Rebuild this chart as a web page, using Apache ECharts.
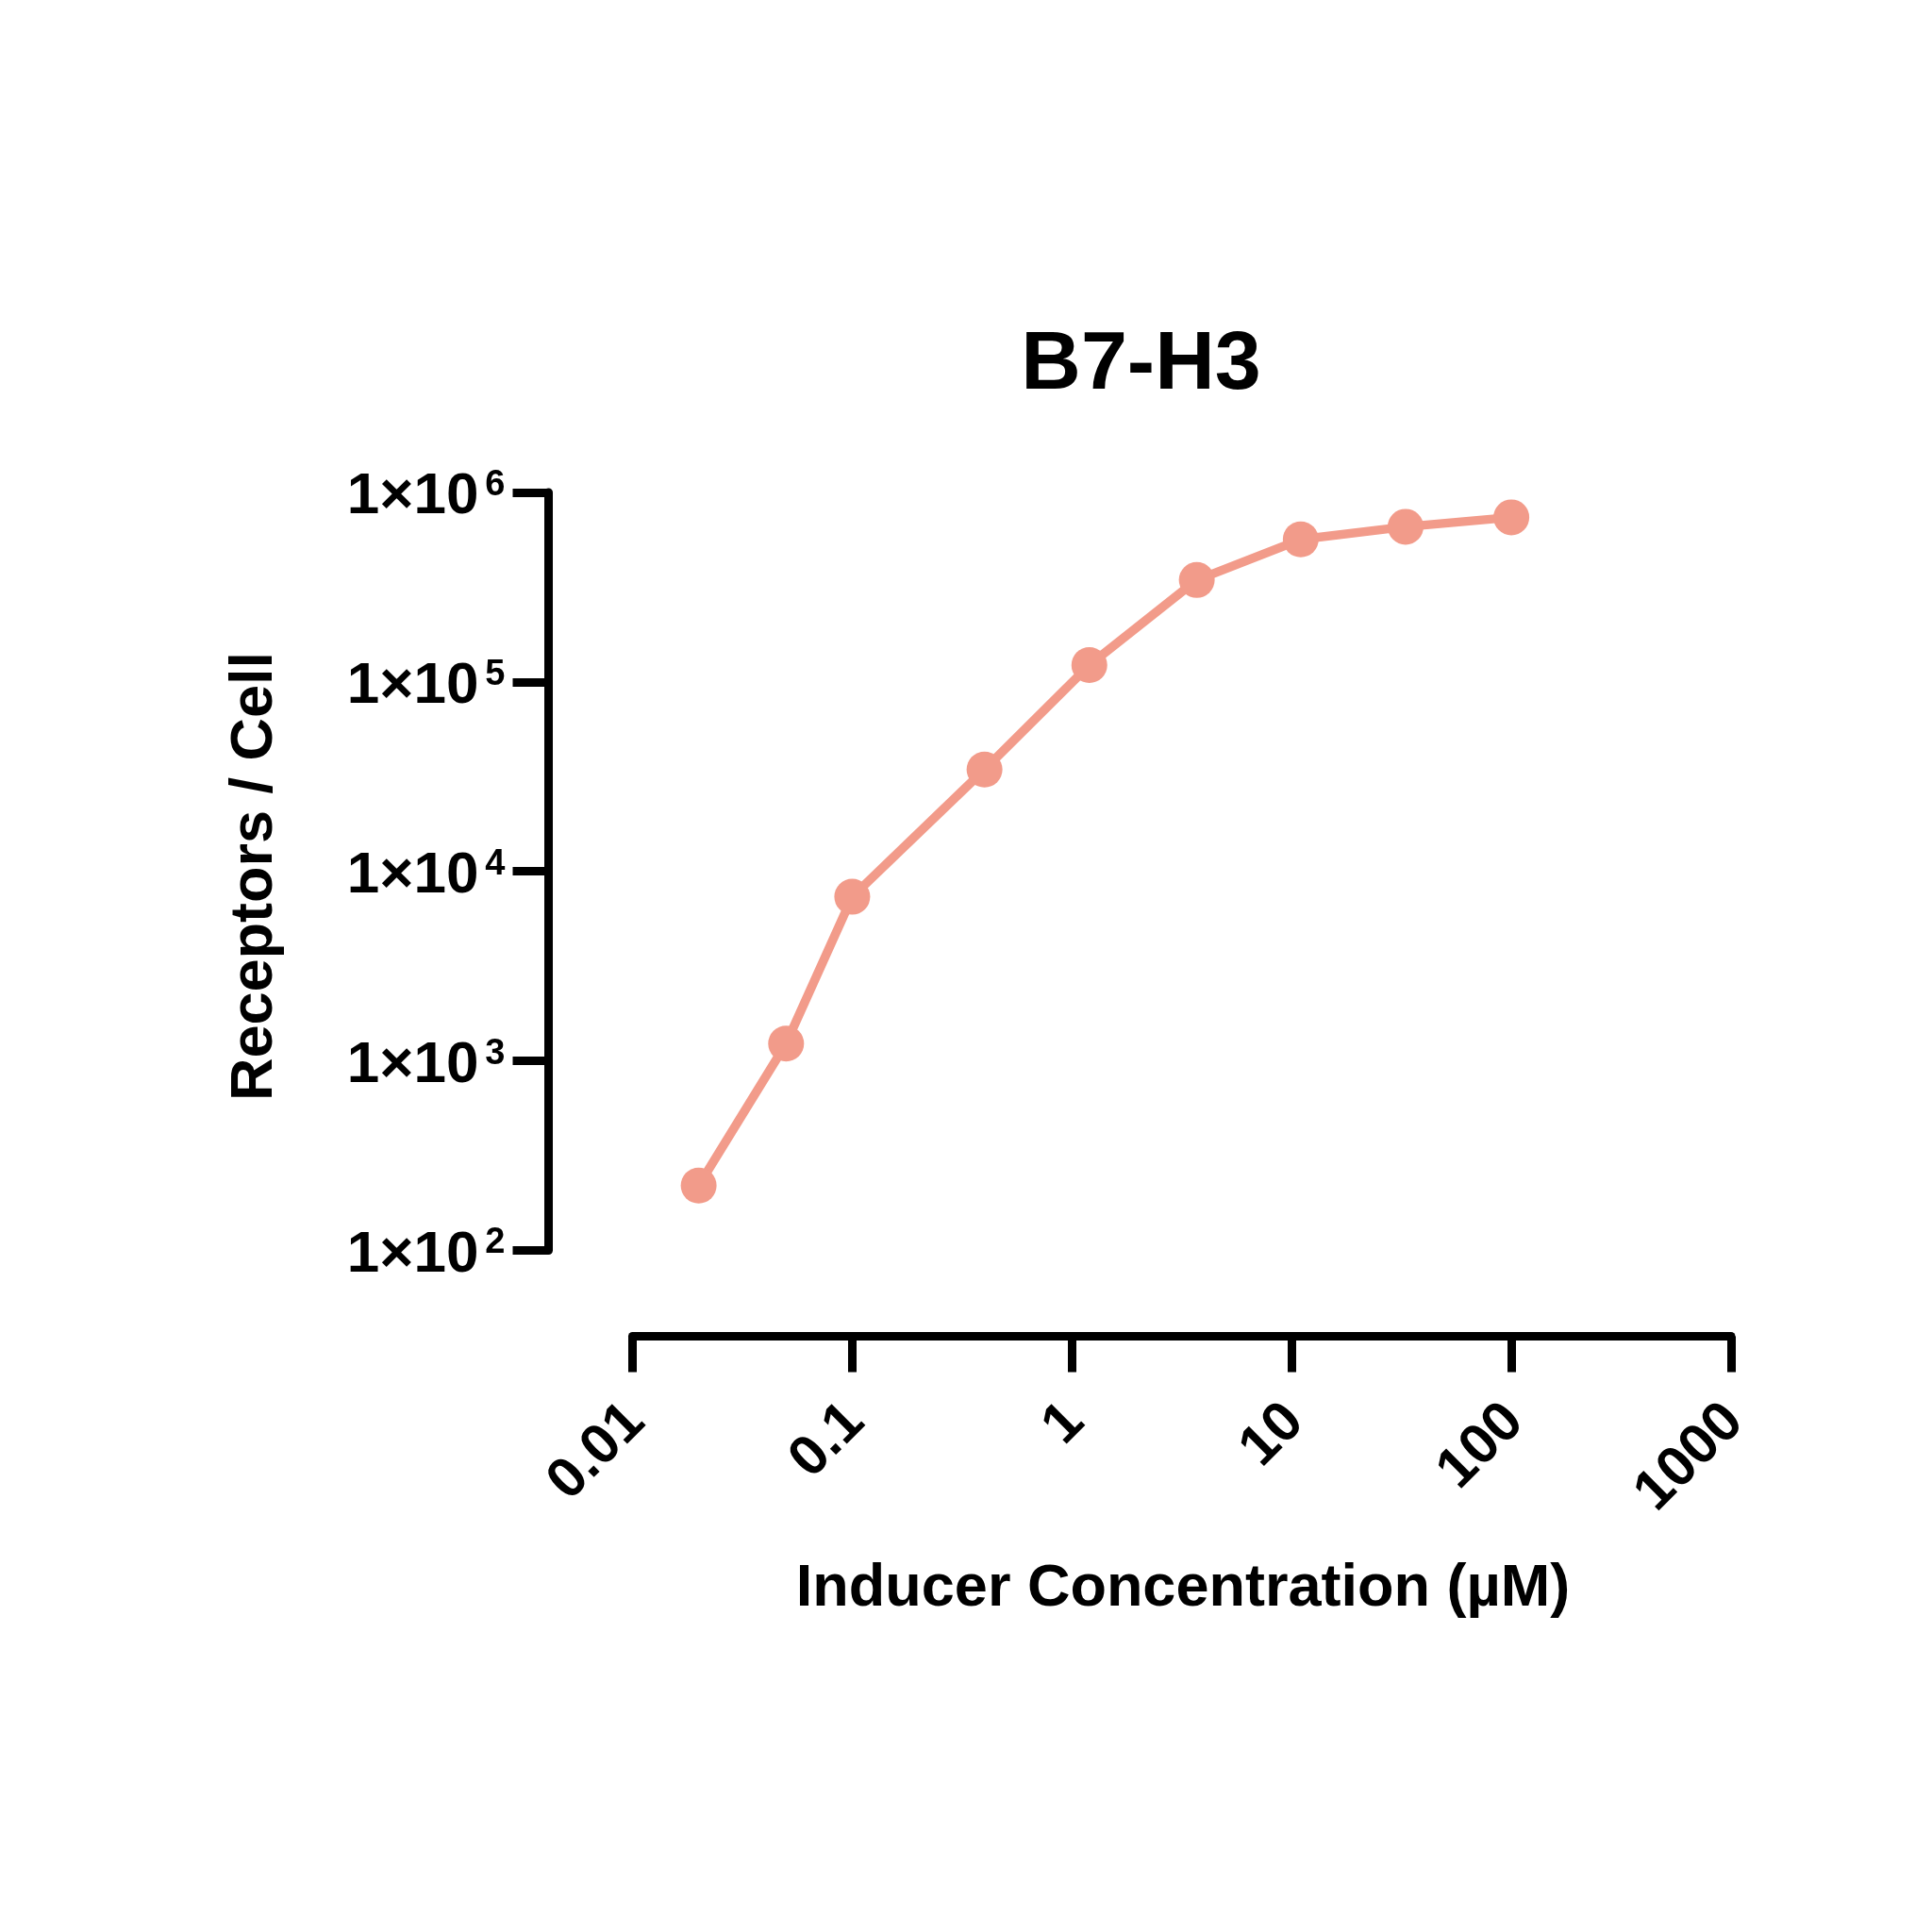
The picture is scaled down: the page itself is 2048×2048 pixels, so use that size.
<!DOCTYPE html>
<html>
<head>
<meta charset="utf-8">
<script src="https://cdn.jsdelivr.net/npm/echarts@6/dist/echarts.min.js"></script>
<style>
  html, body { margin: 0; padding: 0; background: #ffffff; }
  #chart { width: 2048px; height: 2048px; }
</style>
</head>
<body>
<div id="chart"></div>
<script>
// ---- data ----
const chartTitle = 'B7-H3';
const xAxisTitle = 'Inducer Concentration (µM)';
const yAxisTitle = 'Receptors / Cell';
const concentration = [0.02, 0.05, 0.1, 0.4, 1.2, 3.7, 11, 33, 100];
const receptorsPerCell = [220, 1235, 7350, 34500, 122700, 345000, 565000, 659000, 739000];
const xTickLabels = ['0.01', '0.1', '1', '10', '100', '1000'];
const yTickMantissa = '1×10';
const yTickExponents = ['2', '3', '4', '5', '6'];

const seriesColor = '#F29B8A';
const fontFamily = '"Liberation Sans", Arial, Helvetica, sans-serif';

const points = concentration.map((c, i) => [c, receptorsPerCell[i]]);

const chart = echarts.init(document.getElementById('chart'), null, { renderer: 'canvas' });

const option = {
  backgroundColor: '#ffffff',
  animation: false,
  grid: { left: 670.5, right: 213, top: 522, bottom: 722.5, containLabel: false },
  xAxis: {
    type: 'log',
    logBase: 10,
    min: 0.01,
    max: 1000,
    interval: 1,
    offset: 91,
    axisLine: { show: true, lineStyle: { color: '#000', width: 9 } },
    axisTick: { show: true, length: 38, lineStyle: { color: '#000', width: 9 } },
    minorTick: { show: false },
    splitLine: { show: false },
    axisLabel: {
      rotate: 45,
      margin: 85,
      padding: [24, -5, 0, 0],
      color: '#000',
      fontFamily: fontFamily,
      fontWeight: 'bold',
      fontSize: 60,
      formatter: function (v) {
        const e = Math.round(Math.log10(v));
        return xTickLabels[e + 2];
      }
    }
  },
  yAxis: {
    type: 'log',
    logBase: 10,
    min: 100,
    max: 1000000,
    interval: 1,
    offset: 89,
    axisLine: { show: true, lineStyle: { color: '#000', width: 9 } },
    axisTick: { show: true, length: 38, lineStyle: { color: '#000', width: 9 } },
    minorTick: { show: false },
    splitLine: { show: false },
    axisLabel: {
      margin: 46,
      color: '#000',
      formatter: function (v) {
        const e = Math.round(Math.log10(v));
        return '{m|' + yTickMantissa + '}{s|' + yTickExponents[e - 2] + '}';
      },
      rich: {
        m: { fontFamily: fontFamily, fontWeight: 'bold', fontSize: 62, lineHeight: 62, color: '#000',
             verticalAlign: 'middle', padding: [10, 0, 0, 0] },
        s: { fontFamily: fontFamily, fontWeight: 'bold', fontSize: 38, lineHeight: 38, color: '#000',
             verticalAlign: 'middle', padding: [0, 0, 15, 7] }
      }
    }
  },
  graphic: [
    {
      type: 'text', x: 1209.5, y: 388, silent: true,
      style: { text: chartTitle, fill: '#000', font: 'bold 88px ' + fontFamily,
               align: 'center', verticalAlign: 'middle', textAlign: 'center', textVerticalAlign: 'middle' }
    },
    {
      type: 'text', x: 1254, y: 1684.5, silent: true,
      style: { text: xAxisTitle, fill: '#000', font: 'bold 63px ' + fontFamily,
               align: 'center', verticalAlign: 'middle', textAlign: 'center', textVerticalAlign: 'middle' }
    },
    {
      type: 'text', x: 271, y: 929, rotation: Math.PI / 2, silent: true,
      style: { text: yAxisTitle, fill: '#000', font: 'bold 63px ' + fontFamily,
               align: 'center', verticalAlign: 'middle', textAlign: 'center', textVerticalAlign: 'middle' }
    }
  ],
  series: [
    {
      type: 'line',
      data: points,
      symbol: 'circle',
      symbolSize: 38,
      showSymbol: true,
      clip: false,
      silent: true,
      lineStyle: { color: seriesColor, width: 9.5 },
      itemStyle: { color: seriesColor }
    }
  ]
};

chart.setOption(option);
</script>
</body>
</html>
